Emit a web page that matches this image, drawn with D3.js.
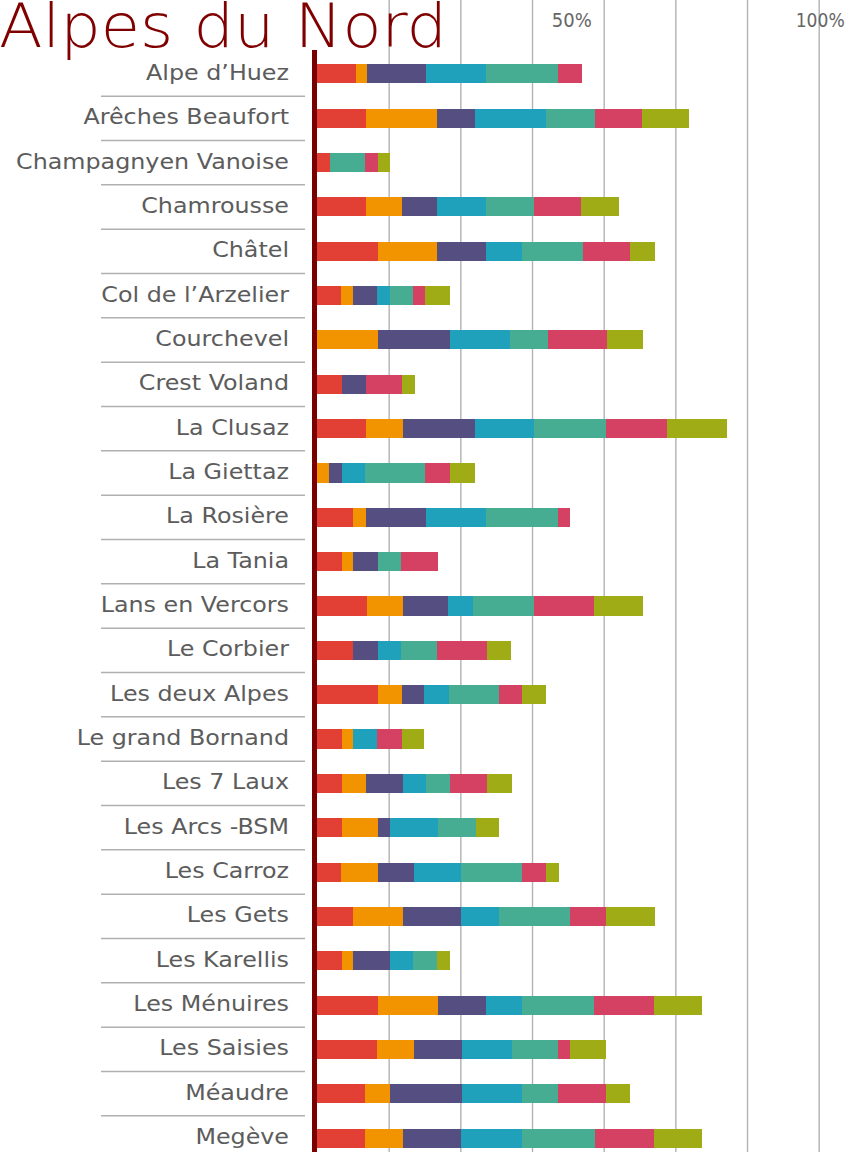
<!DOCTYPE html>
<html>
<head>
<meta charset="utf-8">
<script src="https://cdn.jsdelivr.net/npm/d3@7"></script>
<style>
  html, body { margin: 0; padding: 0; background: #fff; overflow: hidden; }
  svg { display: block; }
</style>
</head>
<body>
<svg id="chart" width="850" height="1152"></svg>
<script>
const title = "Alpes du Nord";
const categories = ["Alpe d’Huez","Arêches Beaufort","Champagnyen Vanoise","Chamrousse","Châtel","Col de l’Arzelier","Courchevel","Crest Voland","La Clusaz","La Giettaz","La Rosière","La Tania","Lans en Vercors","Le Corbier","Les deux Alpes","Le grand Bornand","Les 7 Laux","Les Arcs -BSM","Les Carroz","Les Gets","Les Karellis","Les Ménuires","Les Saisies","Méaudre","Megève"];
const seriesKeys = ["s1","s2","s3","s4","s5","s6","s7"];
const seriesColors = ["#E23F35","#F29300","#544F80","#1FA0BB","#46AD93","#D54163","#A0AC16"];
const s1 = [7.8,9.8,2.6,9.8,12.2,4.8,0,5.0,9.8,0,7.2,5.0,10.0,7.2,12.2,5.0,5.0,5.0,4.8,7.2,5.0,12.2,12.0,9.6,9.6];
const s2 = [2.2,14.2,0,7.2,11.8,2.4,12.2,0,7.4,2.4,2.6,2.2,7.2,0,4.8,2.2,4.8,7.2,7.4,10.0,2.2,12.0,7.4,5.0,7.6];
const s3 = [11.8,7.4,0,7.0,9.6,4.8,14.4,4.8,14.2,2.6,12.0,5.0,9.0,5.0,4.4,0,7.4,2.4,7.2,11.6,7.4,9.4,9.6,14.4,11.6];
const s4 = [11.8,14.2,0,9.6,7.2,2.6,11.8,0,11.8,4.6,11.8,0,4.8,4.6,5.0,4.8,4.6,9.6,9.4,7.4,4.6,7.2,9.8,11.8,12.0];
const s5 = [14.4,9.8,7.0,9.7,12.2,4.6,7.6,0,14.4,12.0,14.4,4.6,12.2,7.2,9.8,0,4.8,7.4,12.0,14.2,4.8,14.4,9.2,7.2,14.6];
const s6 = [4.8,9.4,2.6,9.4,9.4,2.4,11.8,7.2,12.2,5.0,2.4,7.4,12.0,9.8,4.6,5.0,7.2,0,4.8,7.2,0,12.0,2.4,9.6,11.8];
const s7 = [0,9.4,2.4,7.4,5.0,5.0,7.2,2.6,12.0,4.8,0,0,9.8,4.8,4.8,4.4,5.0,4.6,2.6,9.8,2.6,9.6,7.2,4.8,9.6];
const axisLabels = [50, 100];
const gridCount = 7;

const seriesValues = [s1,s2,s3,s4,s5,s6,s7];
const rows = categories.map((c,i) => {
  const r = {cat: c};
  seriesKeys.forEach((k,j) => r[k] = seriesValues[j][i]);
  return r;
});

const svg = d3.select("#chart");
const W = 850, H = 1152;

const x = d3.scaleLinear().domain([0,100]).range([317, 818.7]);
const y = d3.scaleBand().domain(categories).range([51.8, 1160.2])
  .paddingInner(0.571).paddingOuter(0.2855);
const color = d3.scaleOrdinal().domain(seriesKeys).range(seriesColors);

// gridlines
const gridVals = d3.range(1, gridCount + 1).map(i => 100 * i / gridCount);
const grid = svg.append("g")
  .call(d3.axisBottom(x).tickValues(gridVals).tickSize(H).tickFormat(""));
grid.select(".domain").remove();
grid.selectAll(".tick line").attr("stroke", "#b2b2b2").attr("stroke-width", 1.4);

// percent labels
svg.append("g").selectAll("text").data(axisLabels).join("text")
  .attr("x", d => x(d) + (d === 100 ? 1.5 : 4))
  .attr("y", 27)
  .attr("text-anchor", "middle")
  .attr("font-family", "'DejaVu Sans', sans-serif")
  .attr("font-size", 19)
  .attr("fill", "#666")
  .attr("textLength", d => d === 100 ? 49 : 40)
  .attr("lengthAdjust", "spacingAndGlyphs")
  .text(d => d + "%");

// separators
const seps = d3.range(1, categories.length + 1).map(i => y.range()[0] + i * y.step());
svg.append("g").selectAll("line").data(seps).join("line")
  .attr("x1", 101).attr("x2", 305)
  .attr("y1", d => d).attr("y2", d => d)
  .attr("stroke", "#b0b0b0").attr("stroke-width", 1.5);

// bars
const stacked = d3.stack().keys(seriesKeys)(rows);
svg.append("g").selectAll("g").data(stacked).join("g")
  .attr("fill", d => color(d.key))
  .selectAll("rect").data(d => d).join("rect")
  .attr("x", d => x(d[0]))
  .attr("width", d => Math.max(0, x(d[1]) - x(d[0])))
  .attr("y", d => y(d.data.cat))
  .attr("height", y.bandwidth())
  .attr("shape-rendering", "crispEdges");

// axis line
svg.append("line")
  .attr("x1", 314.5).attr("x2", 314.5)
  .attr("y1", 50).attr("y2", H)
  .attr("stroke", "#7a0000").attr("stroke-width", 5);

// category labels
const labels = svg.append("g").selectAll("text").data(categories).join("text")
  .attr("text-anchor", "end")
  .attr("font-family", "'DejaVu Sans', sans-serif")
  .attr("font-size", 21)
  .attr("fill", "#5c5c5c")
  .text(d => d);
let maxW = 0;
labels.each(function() { maxW = Math.max(maxW, this.getComputedTextLength()); });
const sx = 273 / maxW;
labels.attr("transform", d => `translate(289,${y(d) + y.bandwidth()/2 + 6}) scale(${sx},1)`);

// title
svg.append("text")
  .attr("x", -1).attr("y", 47)
  .attr("font-family", "'DejaVu Sans', sans-serif")
  .attr("font-weight", 200)
  .attr("font-size", 60)
  .attr("fill", "#800000")
  .attr("textLength", 448).attr("lengthAdjust", "spacingAndGlyphs")
  .text(title);
</script>
</body>
</html>
